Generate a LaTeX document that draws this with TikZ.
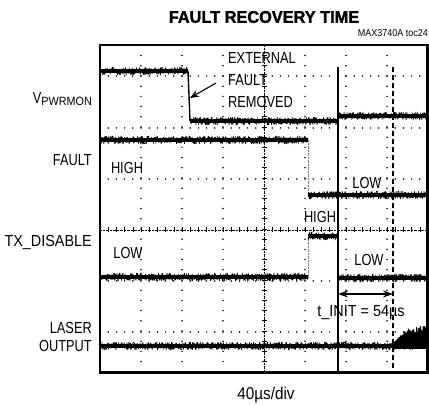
\documentclass[tikz,border=0pt]{standalone}
\usepackage{fontspec}
\usepackage{graphicx}
\setmainfont{Liberation Sans}
\newfontfamily\labelfont[FakeStretch=0.8]{Liberation Sans}
\newfontfamily\widefont[FakeStretch=0.9]{Liberation Sans}
\newfontfamily\titlefont[FakeStretch=0.96, FakeBold=1.6]{Liberation Sans Bold}
\usetikzlibrary{arrows.meta}

\tikzset{
  lbl/.style={font=\labelfont\fontsize{16}{18}\selectfont, inner sep=0pt},
  widelbl/.style={font=\widefont\fontsize{16}{18}\selectfont, inner sep=0pt},
  griddot/.style={fill=black},
  tracecore/.style={line width=3.8pt},
  tracenoise/.style={line width=0.6pt, line join=round},
  cursor/.style={line width=1.1pt},
}

% noisy scope trace from x=#1 to x=#2 at level #3
\newcommand{\scopetrace}[3]{%
  \pgfmathtruncatemacro{\ns}{3*(#2-#1)}%
  \draw[tracecore] (#1,#3) -- (#2,#3);
  \draw[tracenoise] plot[domain=#1:#2, samples=\ns] (\x,{#3+4*rand});
}

\begin{document}
\begin{tikzpicture}[x=1pt, y=-1pt]
    \pgfmathsetseed{3740}
    \useasboundingbox (0,0) rectangle (429,406);
    % title
    \node[font=\titlefont\fontsize{17}{19}\selectfont, inner sep=0pt] (title) at (264,17) {FAULT RECOVERY TIME};
    \node[font=\widefont\fontsize{10}{11}\selectfont, inner sep=0pt, anchor=east] (toc) at (428,33) {MAX3740A toc24};
    % grid dots
    \foreach \gx in {141,182,223,305,346,387}
      \foreach \k in {1,...,31}
        \fill[griddot] (\gx,45.4+\k*10.2) circle (0.85);
    \foreach \gy in {76,128,179,281,332}
      \foreach \k in {1,...,39}
        \fill[griddot] (100+\k*8.2,\gy) circle (0.85);
    % centre lines with ticks
    \draw[line width=0.4pt, densely dotted] (264,45) -- (264,372);
    \draw[line width=0.4pt, densely dotted] (100,230) -- (428,230);
    \foreach \k in {1,...,31}
      \draw[line width=0.6pt] (261.5,45.4+\k*10.2) -- (266.5,45.4+\k*10.2);
    \foreach \k in {1,...,39}
      \draw[line width=0.6pt] (100+\k*8.2,227.5) -- (100+\k*8.2,232.5);
    % cursors
    \draw[cursor] (338,67) -- (338,372);
    \draw[cursor, line width=1.4pt, dash pattern=on 5pt off 3pt] (393,67) -- (393,372);
    % V_PWRMON
    \scopetrace{101}{188}{71}
    \draw[line width=1.4pt] (188,71) -- (189,95) -- (190,121);
    \scopetrace{190}{338}{121}
    \scopetrace{338}{427}{116}
    % FAULT
    \scopetrace{101}{308}{140}
    \draw[line width=0.4pt, densely dotted, gray] (308,140) -- (308,195);
    \scopetrace{308}{427}{195}
    % TX_DISABLE
    \scopetrace{101}{308}{277}
    \draw[line width=0.4pt, densely dotted, gray] (308,277) -- (308,236);
    \scopetrace{308}{337}{236}
    \scopetrace{338}{427}{278}
    % LASER OUTPUT
    \scopetrace{101}{393}{346}
    \draw[tracenoise] plot[domain=393:427, samples=400]
      (\x,{349-24*(1-exp(-(\x-393)/9))*rnd-1.5*rand});
    \fill plot[domain=393:427, samples=40] (\x,{344-13*(1-exp(-(\x-393)/9))})
      -- (427,349) -- (393,349) -- cycle;
    % frame
    \draw[line width=2.6pt] (100,45) rectangle (427.5,372.5);
    % channel labels
    \node[lbl, anchor=east] (vpwr) at (92,99) {V\raisebox{-2pt}{\widefont\fontsize{12}{13}\selectfont PWRMON}};
    \node[lbl, anchor=east] (fault) at (92,160) {FAULT};
    \node[widelbl, anchor=east] (txdis) at (92,243) {TX\_DISABLE};
    \node[lbl, anchor=east, align=right] (laser) at (92,337) {LASER\\OUTPUT};
    % annotations
    \node[lbl, anchor=west, align=left, font=\labelfont\fontsize{16}{22}\selectfont] (ext) at (228,80) {EXTERNAL\\FAULT\\REMOVED};
    \coordinate (extfrom) at (216,83);
    \coordinate (edge) at (190,98);
    \draw[line width=1.1pt, -{Stealth[length=9pt, width=7pt]}] (extfrom) -- (edge);
    \node[lbl] (fhigh) at (127,168) {HIGH};
    \node[lbl] (flow) at (367,183) {LOW};
    \node[lbl] (thigh) at (320,217) {HIGH};
    \node[lbl] (tlowl) at (128,253) {LOW};
    \node[lbl] (tlowr) at (369,260) {LOW};
    \coordinate (tstart) at (338,294);
    \coordinate (tend) at (393,294);
    \draw[line width=1.4pt, {Stealth[length=10pt, width=7pt]}-{Stealth[length=10pt, width=7pt]}] (tstart) -- (tend);
    \node[widelbl] (tinit) at (361,313) {t\_INIT = 54µs};
    \node[font=\widefont\fontsize{17}{19}\selectfont, inner sep=0pt] (div) at (266,395) {40µs/div};
\end{tikzpicture}
\end{document}
